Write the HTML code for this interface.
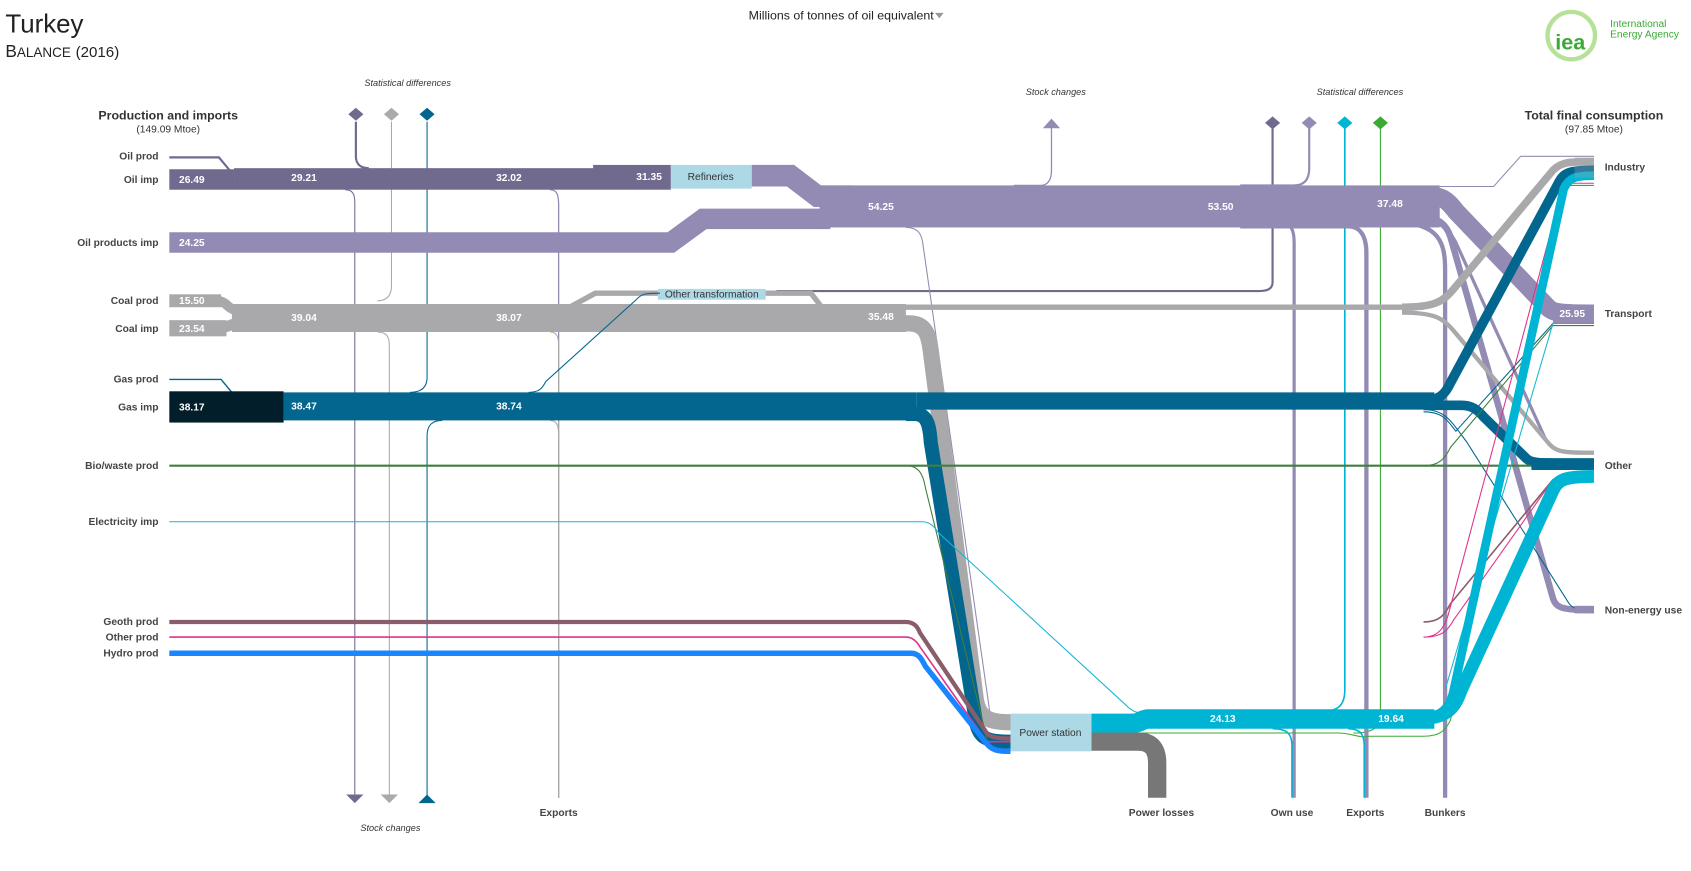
<!DOCTYPE html>
<html><head><meta charset="utf-8"><style>
html,body{margin:0;padding:0;background:#fff;}
svg{display:block;font-family:"Liberation Sans",sans-serif;}
.l{font-size:9.5px;font-weight:bold;fill:#444;text-anchor:end}
.r{font-size:9.5px;font-weight:bold;fill:#444}
.v{font-size:9.5px;font-weight:bold;fill:#fff}
.it{font-size:8.5px;font-style:italic;fill:#333;text-anchor:middle}
.b{font-size:9.5px;font-weight:bold;fill:#444;text-anchor:middle}
path{fill:none}
</style></head><body>
<svg width="1691" height="871" viewBox="0 0 1568 808" preserveAspectRatio="none">
<text x="5" y="30" font-size="24" fill="#222">Turkey</text>
<text x="5" y="53" font-size="16" fill="#222">B<tspan font-size="12.5">ALANCE</tspan> <tspan font-size="14">(2016)</tspan></text>
<text x="780" y="18" font-size="11.5" fill="#222" text-anchor="middle">Millions of tonnes of oil equivalent</text>
<path d="M867 12 L875 12 L871 17 Z" style="fill:#999"/>
<!-- IEA logo -->
<circle cx="1457" cy="33" r="22" stroke="#7ac943" stroke-width="4" opacity="0.55" style="fill:none"/>
<text x="1456" y="46" font-size="20" font-weight="bold" fill="#3aaa35" text-anchor="middle">iea</text>
<text x="1493" y="25" font-size="9.5" fill="#3aaa35">International</text>
<text x="1493" y="35" font-size="9.5" fill="#3aaa35">Energy Agency</text>

<text x="156" y="111" font-size="11.5" font-weight="bold" fill="#333" text-anchor="middle">Production and imports</text>
<text x="156" y="123" font-size="9.5" fill="#333" text-anchor="middle">(149.09 Mtoe)</text>
<text x="1478" y="111" font-size="11.5" font-weight="bold" fill="#333" text-anchor="middle">Total final consumption</text>
<text x="1478" y="123" font-size="9.5" fill="#333" text-anchor="middle">(97.85 Mtoe)</text>

<text class="it" x="378" y="80">Statistical differences</text>
<text class="it" x="979" y="88">Stock  changes</text>
<text class="it" x="1261" y="88">Statistical differences</text>
<text class="it" x="362" y="771">Stock changes</text>

<text class="l" x="147" y="148">Oil prod</text>
<text class="l" x="147" y="170">Oil imp</text>
<text class="l" x="147" y="228">Oil products imp</text>
<text class="l" x="147" y="282">Coal prod</text>
<text class="l" x="147" y="308">Coal imp</text>
<text class="l" x="147" y="355">Gas prod</text>
<text class="l" x="147" y="381">Gas imp</text>
<text class="l" x="147" y="435">Bio/waste prod</text>
<text class="l" x="147" y="487">Electricity imp</text>
<text class="l" x="147" y="580">Geoth prod</text>
<text class="l" x="147" y="594">Other prod</text>
<text class="l" x="147" y="609">Hydro prod</text>

<text class="r" x="1488" y="158">Industry</text>
<text class="r" x="1488" y="294">Transport</text>
<text class="r" x="1488" y="435">Other</text>
<text class="r" x="1488" y="569">Non-energy use</text>

<text class="b" x="518" y="757">Exports</text>
<text class="b" x="1077" y="757">Power losses</text>
<text class="b" x="1198" y="757">Own use</text>
<text class="b" x="1266" y="757">Exports</text>
<text class="b" x="1340" y="757">Bunkers</text>

<path d="M330 113 V145 C330 152 334 156 342 156" stroke="#716a8f" stroke-width="2"/>
<path d="M363 113 V265 C363 275 358 279 350 279" stroke="#aaa" stroke-width="1"/>
<path d="M396 113 V350 C396 360 390 364 380 364" stroke="#03668e" stroke-width="1"/>
<path d="M320 176 C327 176 329 180 329 188 V738" stroke="#716a8f" stroke-width="1"/>
<path d="M350 308 C358 308 361 312 361 320 V738" stroke="#aaa" stroke-width="1"/>
<path d="M410 390 C400 390 396 395 396 405 V740" stroke="#03668e" stroke-width="1"/>
<path d="M510 176 C516 176 518 180 518 190 V740" stroke="#938bb3" stroke-width="1.2"/>
<path d="M510 308 C516 308 518 312 518 320 V740" stroke="#aaa" stroke-width="1"/>
<path d="M510 390 C516 390 518 394 518 404 V740" stroke="#aaa" stroke-width="1"/>
<path d="M321 737 L337 737 L329 745 Z" style="fill:#716a8f"/>
<path d="M353 737 L369 737 L361 745 Z" style="fill:#aaa"/>
<path d="M388 745 L404 745 L396 737 Z" style="fill:#03668e"/>
<path d="M330 100 L337 106 L330 112 L323 106 Z" style="fill:#716a8f"/>
<path d="M363 100 L370 106 L363 112 L356 106 Z" style="fill:#aaa"/>
<path d="M396 100 L403 106 L396 112 L389 106 Z" style="fill:#03668e"/>

<path d="M1180 113 V262 C1180 268 1175 270 1168 270 H720" stroke="#716a8f" stroke-width="2"/>
<path d="M1150 172 H1200 C1210 172 1214 166 1214 156 V113" stroke="#938bb3" stroke-width="2"/>
<path d="M1247 113 V640 C1247 655 1240 660 1225 660" stroke="#00b4d4" stroke-width="1.5"/>
<path d="M1280 113 V665 C1280 676 1270 680 1255 680" stroke="#3aaa35" stroke-width="1"/>
<path d="M1180 108 L1187 114 L1180 120 L1173 114 Z" style="fill:#716a8f"/>
<path d="M1214 108 L1221 114 L1214 120 L1207 114 Z" style="fill:#938bb3"/>
<path d="M1247 108 L1254 114 L1247 120 L1240 114 Z" style="fill:#00b4d4"/>
<path d="M1280 108 L1287 114 L1280 120 L1273 114 Z" style="fill:#3aaa35"/>
<path d="M940 172 H965 C972 172 975 166 975 158 V118" stroke="#938bb3" stroke-width="1.2"/>
<path d="M967 119 L983 119 L975 110 Z" style="fill:#938bb3"/>

<path d="M157 146 H203 L213 158" stroke="#716a8f" stroke-width="2"/>
<rect x="157" y="157" width="60" height="19" fill="#716a8f"/>
<rect x="217" y="156" width="405" height="20" fill="#716a8f"/>
<rect x="550" y="153" width="72" height="22" fill="#716a8f"/>
<path d="M157 225 H622 L652 203 H770" stroke="#938bb3" stroke-width="19"/>
<path d="M697 163 H733 L758 182 H790" stroke="#938bb3" stroke-width="20"/>
<rect x="760" y="172" width="575" height="39" fill="#938bb3"/>
<path d="M1320 181 C1338 181 1342 186 1350 196 L1435 285 C1440 290 1445 291 1478 291" stroke="#938bb3" stroke-width="17"/>
<path d="M1300 198 C1335 198 1342 210 1345 220 L1440 555 C1443 564 1448 566 1478 566" stroke="#938bb3" stroke-width="6"/>
<path d="M1300 203 C1335 203 1342 210 1350 225 L1432 405 C1438 418 1445 420 1478 420" stroke="#938bb3" stroke-width="3"/>
<path d="M1150 207 H1188 C1197 207 1200 213 1200 225 V740" stroke="#938bb3" stroke-width="3"/>
<path d="M1150 210 H1250 C1262 210 1267 220 1267 235 V740" stroke="#938bb3" stroke-width="4"/>
<path d="M1280 205 C1332 205 1340 220 1340 250 V740" stroke="#938bb3" stroke-width="4"/>
<path d="M840 211 C852 211 855 218 856 228 L918 662 C920 667 925 668 937 668" stroke="#938bb3" stroke-width="1"/>
<path d="M1478 145 H1410 L1385 173 H1335" stroke="#938bb3" stroke-width="1"/>
<rect x="622" y="153" width="75" height="22" fill="#add8e6"/>
<text x="659" y="167" font-size="9.5" fill="#333" text-anchor="middle">Refineries</text>

<rect x="157" y="273" width="48" height="12" fill="#a9a9ab"/>
<path d="M200 279 C212 279 210 288 222 288" stroke="#a9a9ab" stroke-width="9"/>
<rect x="157" y="297" width="53" height="15" fill="#a9a9ab"/>
<path d="M205 304 C213 304 212 300 222 300" stroke="#a9a9ab" stroke-width="10"/>
<rect x="215" y="282" width="625" height="26" fill="#a9a9ab"/>
<path d="M530 284 L552 272 H752 L762 285 H1320" stroke="#a9a9ab" stroke-width="5"/>
<path d="M1300 285 C1330 285 1338 280 1348 268 L1440 158 C1448 150 1455 150 1478 150" stroke="#a9a9ab" stroke-width="7"/>
<path d="M1300 290 C1330 290 1338 295 1348 307 L1435 410 C1443 420 1450 420 1478 420" stroke="#a9a9ab" stroke-width="4"/>
<path d="M820 300 H843 C858 300 861 310 863 325 L905 650 C908 665 915 670 937 670" stroke="#a9a9ab" stroke-width="15"/>
<rect x="610" y="268" width="100" height="10" fill="#add8e6"/>
<text x="660" y="276" font-size="9.5" fill="#333" text-anchor="middle">Other transformation</text>

<path d="M157 352 H205 L215 364" stroke="#03668e" stroke-width="1.3"/>
<rect x="263" y="364" width="587" height="26" fill="#03668e"/>
<rect x="850" y="364" width="480" height="16" fill="#03668e"/>
<path d="M490 364 C500 364 503 360 506 354 L590 278 C595 272 600 272 612 272" stroke="#03668e" stroke-width="1"/>
<path d="M1315 372 C1335 372 1340 366 1345 355 L1445 170 C1450 160 1455 158 1478 158" stroke="#03668e" stroke-width="9"/>
<path d="M1320 376 H1355 C1365 376 1370 380 1376 387 L1415 425 C1420 430 1425 430 1478 430" stroke="#03668e" stroke-width="9"/>
<path d="M1320 380 C1340 380 1345 390 1360 410 L1455 560 C1460 566 1465 566 1478 566" stroke="#03668e" stroke-width="1"/>
<path d="M1320 382 C1338 382 1342 390 1350 400 L1440 300 H1478" stroke="#03668e" stroke-width="1"/>
<path d="M840 384 H848 C860 384 862 395 863 410 L905 670 C908 685 915 688 937 688" stroke="#03668e" stroke-width="13"/>
<rect x="157" y="363" width="106" height="29" fill="#021e2a"/>

<path d="M157 432 H1478" stroke="#3f7f3f" stroke-width="2"/>
<path d="M840 432 C852 432 856 440 858 452 L915 685" stroke="#3f7f3f" stroke-width="1"/>
<path d="M1320 432 C1335 432 1340 425 1345 415 L1440 302 H1478" stroke="#3f7f3f" stroke-width="1"/>
<path d="M157 484 H855 C862 484 866 488 870 494 L1045 655 C1050 660 1055 662 1065 662" stroke="#17b7d4" stroke-width="1"/>
<path d="M1340 640 L1440 300 H1478" stroke="#17b7d4" stroke-width="1"/>
<path d="M157 577 H840 C848 577 851 582 853 587 L915 680 C918 684 925 685 937 685" stroke="#8a5d6b" stroke-width="4"/>
<path d="M1320 577 C1335 577 1340 570 1345 560 L1440 445 H1478" stroke="#8a5d6b" stroke-width="1.5"/>
<path d="M157 591 H840 C846 591 850 595 853 600 L915 688 H937" stroke="#e0338c" stroke-width="1.5"/>
<path d="M1320 591 C1335 591 1340 580 1343 570 L1450 170 H1478" stroke="#e0338c" stroke-width="1"/>
<path d="M1320 591 C1338 591 1342 585 1348 575 L1440 445 H1478" stroke="#e0338c" stroke-width="1"/>
<path d="M157 606 H845 C852 606 855 612 858 618 L915 690 C920 696 925 697 937 697" stroke="#1a85ff" stroke-width="5"/>

<path d="M1012 671 H1050 C1058 671 1058 667 1065 667 H1330" stroke="#00b4d4" stroke-width="18"/>
<path d="M1012 680 H1240 C1255 680 1258 685 1270 683 H1320 C1335 683 1340 678 1345 668 L1450 172 H1478" stroke="#3aaa35" stroke-width="1"/>
<path d="M1310 667 C1338 667 1345 655 1348 640 L1450 175 C1455 165 1460 163 1478 163" stroke="#00b4d4" stroke-width="8"/>
<path d="M1310 667 C1340 667 1348 660 1355 640 L1440 455 C1445 445 1450 442 1478 442" stroke="#00b4d4" stroke-width="12"/>
<path d="M1180 676 C1195 676 1198 682 1198 692 V740" stroke="#00b4d4" stroke-width="1.5"/>
<path d="M1250 676 C1262 676 1265 682 1265 692 V740" stroke="#00b4d4" stroke-width="1.5"/>
<path d="M1012 688 H1055 C1068 688 1073 695 1073 708 V740" stroke="#777" stroke-width="17"/>
<rect x="937" y="662" width="75" height="35" fill="#add8e6"/>
<text x="974" y="683" font-size="9.5" fill="#333" text-anchor="middle">Power station</text>

<rect x="1460" y="145" width="18" height="20" fill="#a9a9ab" opacity="0.3"/>
<rect x="1440" y="283" width="38" height="17" fill="#938bb3"/>
<rect x="1420" y="425" width="58" height="11" fill="#03668e"/>
<rect x="1460" y="562" width="18" height="7" fill="#938bb3"/>

<text class="v" x="166" y="170">26.49</text>
<text class="v" x="270" y="168">29.21</text>
<text class="v" x="460" y="168">32.02</text>
<text class="v" x="590" y="167">31.35</text>
<text class="v" x="166" y="228">24.25</text>
<text class="v" x="805" y="195">54.25</text>
<text class="v" x="1120" y="195">53.50</text>
<text class="v" x="1277" y="192">37.48</text>
<text class="v" x="1446" y="294">25.95</text>
<text class="v" x="166" y="282">15.50</text>
<text class="v" x="166" y="308">23.54</text>
<text class="v" x="270" y="298">39.04</text>
<text class="v" x="460" y="298">38.07</text>
<text class="v" x="805" y="297">35.48</text>
<text class="v" x="166" y="381">38.17</text>
<text class="v" x="270" y="380">38.47</text>
<text class="v" x="460" y="380">38.74</text>
<text class="v" x="1122" y="670">24.13</text>
<text class="v" x="1278" y="670">19.64</text>
</svg>
</body></html>
